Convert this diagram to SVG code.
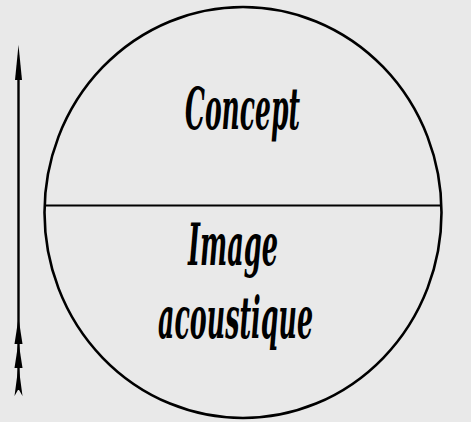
<svg xmlns="http://www.w3.org/2000/svg" width="471" height="422" viewBox="0 0 471 422">
<style>
.ln{stroke:#000;fill:none}
.lbl{font-family:"DejaVu Serif","Liberation Serif",serif;font-style:italic;font-weight:bold;font-size:57px;fill:#000;text-anchor:middle}
.hd{fill:#000;stroke:none}
</style>
<rect width="471" height="422" fill="#e9e9e9"/>
<g id="sign">
<ellipse class="ln" cx="243" cy="212.5" rx="198.5" ry="205.5" stroke-width="2.6"/>
<line class="ln" x1="44" y1="205.5" x2="442" y2="205.5" stroke-width="2.2"/>
</g>
<g id="concept">
<text class="lbl" x="242.5" y="129" textLength="115" lengthAdjust="spacingAndGlyphs">Concept</text>
</g>
<g id="image">
<text class="lbl" x="233" y="265" textLength="90" lengthAdjust="spacingAndGlyphs">Image</text>
<text class="lbl" x="235.5" y="338" textLength="155" lengthAdjust="spacingAndGlyphs">acoustique</text>
</g>
<g id="connectors">
<line class="ln" x1="18.5" y1="60" x2="18.5" y2="390" stroke-width="2.4"/>
<polygon class="hd" points="18.5,45 22,80 15,80"/>
<polygon class="hd" points="18.5,318 22.5,344 14.5,344"/>
<polygon class="hd" points="18.5,342 22.5,368 14.5,368"/>
<polygon class="hd" points="18.5,366 22.5,396 18.5,389 14.5,396"/>
</g>
</svg>
